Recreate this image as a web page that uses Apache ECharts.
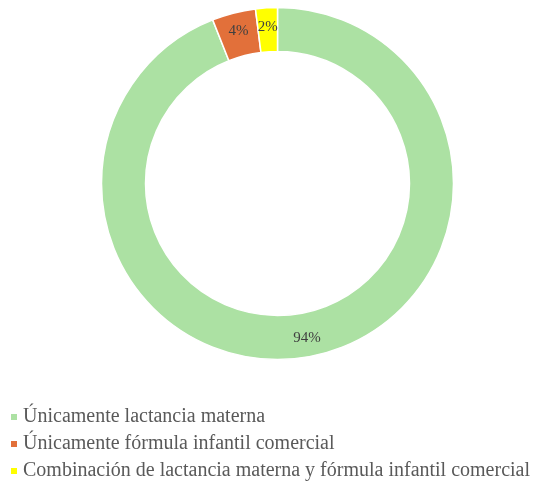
<!DOCTYPE html>
<html>
<head>
<meta charset="utf-8">
<script src="https://cdn.jsdelivr.net/npm/echarts@6/dist/echarts.min.js"></script>
<style>
  html, body { margin: 0; padding: 0; background: #fff; }
  #chart { width: 554px; height: 490px; }
</style>
</head>
<body>
<div id="chart"></div>
<script>
// categorías y porcentajes
const categories = [
  'Únicamente lactancia materna',
  'Únicamente fórmula infantil comercial',
  'Combinación de lactancia materna y fórmula infantil comercial'
];
const values = [94, 4, 2];
const colors = ['#ACE1A3', '#E2703A', '#FFFF00'];

const chart = echarts.init(document.getElementById('chart'));

chart.setOption({
  animation: false,
  color: colors,
  legend: {
    orient: 'vertical',
    left: 4,
    top: 402,
    itemWidth: 8,
    itemHeight: 8,
    itemGap: 7,
    icon: 'rect',
    textStyle: {
      fontFamily: 'Liberation Serif',
      fontSize: 20,
      lineHeight: 20,
      color: '#595959'
    },
    data: categories
  },
  series: [{
    type: 'pie',
    center: [277.5, 183.5],
    radius: [132, 176],
    startAngle: 90,
    clockwise: true,
    avoidLabelOverlap: false,
    itemStyle: {
      borderColor: '#fff',
      borderWidth: 1.5
    },
    label: {
      position: 'inside',
      formatter: '{c}%',
      fontFamily: 'Liberation Serif',
      fontSize: 15,
      color: '#404040'
    },
    labelLine: { show: false },
    data: categories.map((name, i) => ({ name, value: values[i] }))
  }]
});
</script>
</body>
</html>
